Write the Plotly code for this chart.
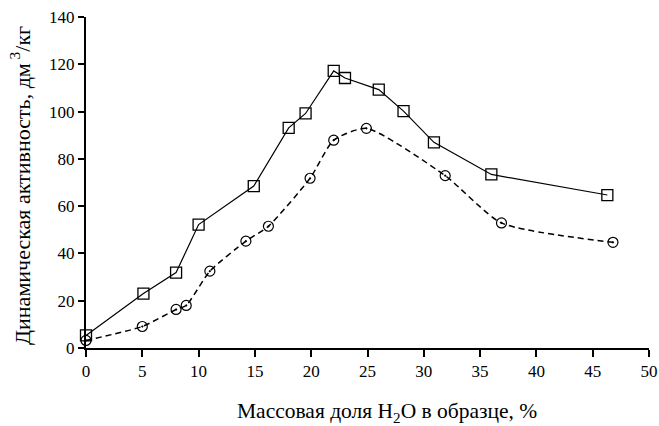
import plotly.graph_objects as go

# Series 1 (squares, solid)
x_sq = [0, 5.1, 8.0, 10.0, 14.9, 18.0, 19.5, 22.0, 23.0, 26.0, 28.2, 30.9, 36.0, 46.3]
y_sq = [5.3, 23.0, 31.9, 52.2, 68.5, 93.1, 99.2, 117.2, 114.2, 109.3, 100.2, 87.0, 73.4, 64.7]

# Series 2 (circles, dashed)
x_ci = [0, 5.0, 8.0, 8.9, 11.0, 14.2, 16.2, 19.9, 22.0, 24.9, 31.9, 36.9, 46.8]
y_ci = [3.2, 9.1, 16.3, 18.0, 32.5, 45.2, 51.5, 71.8, 87.9, 92.9, 72.9, 52.9, 44.7]

x_ticks = [0, 5, 10, 15, 20, 25, 30, 35, 40, 45, 50]
y_ticks = [0, 20, 40, 60, 80, 100, 120, 140]

FONT = "Liberation Serif, Times New Roman, serif"

fig = go.Figure()
fig.add_trace(go.Scatter(
    x=x_ci, y=y_ci, mode="lines+markers",
    line=dict(color="black", width=1.5, dash="6px,4px", shape="spline", smoothing=0.6),
    marker=dict(symbol="circle-open-dot", size=10, color="black", line=dict(width=1.2)),
    cliponaxis=False, showlegend=False,
))
fig.add_trace(go.Scatter(
    x=x_sq, y=y_sq, mode="lines+markers",
    line=dict(color="black", width=1.2),
    marker=dict(symbol="square-open", size=11, color="black", line=dict(width=1.3)),
    cliponaxis=False, showlegend=False,
))

fig.update_layout(
    width=659, height=426, autosize=False,
    margin=dict(l=86, r=10, t=17, b=78),
    paper_bgcolor="white", plot_bgcolor="white",
    font=dict(family=FONT, size=17, color="black"),
    xaxis=dict(
        range=[0, 50], tickvals=x_ticks, ticktext=[str(v) for v in x_ticks],
        automargin=False,
        showgrid=False, zeroline=False, showline=True, linecolor="black", linewidth=2,
        ticks="outside", ticklen=7, tickwidth=2, tickcolor="black",
        tickfont=dict(family=FONT, size=17),
    ),
    yaxis=dict(
        range=[0, 140], tickvals=y_ticks, ticktext=[str(v) for v in y_ticks],
        automargin=False,
        showgrid=False, zeroline=False, showline=True, linecolor="black", linewidth=2,
        ticks="outside", ticklen=6, tickwidth=2, tickcolor="black",
        tickfont=dict(family=FONT, size=17),
    ),
    annotations=[
        dict(text="Массовая доля H<sub>2</sub>O в образце, %", xref="paper", yref="paper",
             x=0.535, y=-0.194, xanchor="center", yanchor="middle", showarrow=False,
             font=dict(family=FONT, size=21.5)),
        dict(text="Динамическая активность, дм<sup> 3</sup>/кг", xref="paper", yref="paper",
             x=-0.117, y=0.49, xanchor="center", yanchor="middle", textangle=-90, showarrow=False,
             font=dict(family=FONT, size=22)),
    ],
)

fig.write_html(
    "out.html",
    config={"responsive": False, "displayModeBar": False},
    post_script="document.body.style.margin='0';document.body.style.overflow='hidden';"
                "document.documentElement.style.overflow='hidden';",
)
